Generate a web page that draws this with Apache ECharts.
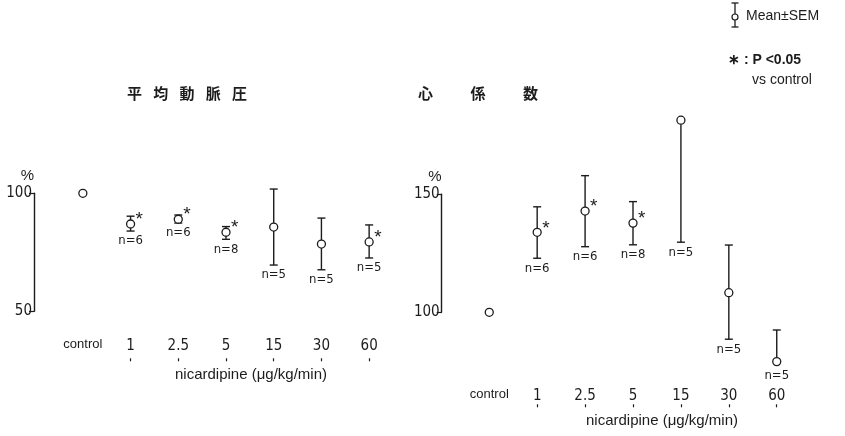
<!DOCTYPE html>
<html>
<head>
<meta charset="utf-8">
<script src="https://cdn.jsdelivr.net/npm/echarts@6/dist/echarts.min.js"></script>
<style>
html,body{margin:0;padding:0;background:#fff;}
#c{width:845px;height:436px;}
</style>
</head>
<body>
<div id="c"></div>
<script>
// ---- data ----
const categories = ['control', '1', '2.5', '5', '15', '30', '60'];
const nCounts = ['', 'n=6', 'n=6', 'n=8', 'n=5', 'n=5', 'n=5'];

// 平均動脈圧 (% of control)
const mapMean  = [100, 87.0, 89.0, 83.5, 85.7, 78.5, 79.4];
const mapUpper = [null, 90.3, 90.8, 85.9, 101.8, 89.5, 86.6];
const mapLower = [null, 84.0, 87.4, 80.5, 69.6, 67.6, 72.6];
const mapSig   = [false, true, true, true, false, false, true];

// 心係数 (% of control)
const ciMean  = [100, 133.9, 142.9, 137.8, 181.4, 108.3, 79.1];
const ciUpper = [null, 144.7, 157.9, 146.9, null, 128.5, 92.5];
const ciLower = [null, 122.9, 127.8, 128.6, 129.7, 88.6, null];
const ciSig   = [false, true, true, true, false, false, false];

const yTicksLeft = [50, 100];
const yTicksRight = [100, 150];

// ---- chart ----
const INK = '#1c1c1c';
const NARROW = '"Liberation Sans Narrow","DejaVu Sans Condensed","Liberation Sans",sans-serif';
const SANS = '"Liberation Sans","Noto Sans",Arial,sans-serif';
const CJK = '"Noto Sans CJK JP","Noto Sans CJK SC",sans-serif';

function makeRender(mean, upper, lower, sig) {
  return function (params, api) {
    const i = api.value(0);
    const c = api.coord([i, mean[i]]);
    const r = 4;
    const ch = [];
    const ls = { stroke: INK, lineWidth: 1.4 };
    let bottomY = c[1] + r;
    if (upper[i] != null) {
      const u = api.coord([i, upper[i]]);
      ch.push({ type: 'line', shape: { x1: c[0], y1: c[1] - r, x2: c[0], y2: u[1] }, style: ls });
      ch.push({ type: 'line', shape: { x1: c[0] - 4, y1: u[1], x2: c[0] + 4, y2: u[1] }, style: ls });
    }
    if (lower[i] != null) {
      const l = api.coord([i, lower[i]]);
      ch.push({ type: 'line', shape: { x1: c[0], y1: c[1] + r, x2: c[0], y2: l[1] }, style: ls });
      ch.push({ type: 'line', shape: { x1: c[0] - 4, y1: l[1], x2: c[0] + 4, y2: l[1] }, style: ls });
      bottomY = l[1];
    }
    ch.push({ type: 'circle', shape: { cx: c[0], cy: c[1], r: r }, style: { fill: '#fff', stroke: INK, lineWidth: 1.3 } });
    if (nCounts[i]) {
      ch.push({ type: 'text', style: { x: c[0], y: bottomY + 10, text: nCounts[i], align: 'center', verticalAlign: 'middle', font: '13px ' + NARROW, fill: INK } });
    }
    if (sig[i]) {
      ch.push({ type: 'text', style: { x: c[0] + 5, y: c[1] - 4, text: '*', align: 'left', verticalAlign: 'middle', font: '19px ' + SANS, fill: INK } });
    }
    return { type: 'group', children: ch };
  };
}

const chart = echarts.init(document.getElementById('c'), null, { renderer: 'canvas' });

function xLabelAxis(grid, margin) {
  return {
    type: 'category', gridIndex: grid, data: categories, boundaryGap: true,
    axisLine: { show: false }, axisTick: { show: false }, splitLine: { show: false },
    axisLabel: {
      margin: margin, color: INK, interval: 0,
      formatter: function (v) { return v === 'control' ? '{c|' + v + '}' : '{n|' + v + '}'; },
      rich: {
        c: { fontFamily: SANS, fontSize: 13, color: INK },
        n: { fontFamily: NARROW, fontSize: 15, color: INK }
      }
    }
  };
}
function xTickAxis(grid, offset, pad) {
  return {
    type: 'category', gridIndex: grid, data: categories, boundaryGap: true, position: 'bottom', offset: offset,
    axisLine: { show: false },
    axisTick: { show: true, alignWithLabel: true, length: 3, lineStyle: { color: INK, width: 1.2 },
      interval: function (idx) { return idx > 0; } },
    axisLabel: { show: false }, splitLine: { show: false },
    name: 'nicardipine (\u03bcg/kg/min)', nameLocation: 'middle', nameGap: 9,
    nameTextStyle: { fontFamily: SANS, fontSize: 15, color: INK, padding: [0, 0, 0, pad] }
  };
}
function yAxis(grid, min, max, ticks) {
  return {
    type: 'value', gridIndex: grid, min: min, max: max, interval: ticks[1] - ticks[0], offset: 25,
    axisLine: { show: true, lineStyle: { color: INK, width: 1.4 } },
    axisTick: { show: true, length: 5, lineStyle: { color: INK, width: 1.2 } },
    splitLine: { show: false },
    axisLabel: { margin: 2, fontFamily: NARROW, fontSize: 15, color: INK },
    name: '%', nameLocation: 'end', nameGap: 10,
    nameTextStyle: { fontFamily: SANS, fontSize: 15, color: INK, align: 'right', padding: [0, 0, 0, 0] }
  };
}

const option = {
  backgroundColor: '#fff',
  animation: false,
  grid: [
    { left: 59, width: 334, top: 193.3, height: 118 },
    { left: 465.3, width: 335.4, top: 194.3, height: 118 }
  ],
  xAxis: [
    xLabelAxis(0, 27),
    xTickAxis(0, 47, 50),
    xLabelAxis(1, 76),
    xTickAxis(1, 92, 58)
  ],
  yAxis: [
    yAxis(0, 50, 100, yTicksLeft),
    Object.assign(yAxis(1, 100, 150, yTicksRight), { offset: 23.6 })
  ],
  series: [
    { type: 'custom', xAxisIndex: 0, yAxisIndex: 0, clip: false,
      renderItem: makeRender(mapMean, mapUpper, mapLower, mapSig),
      data: mapMean.map(function (v, i) { return [i, v]; }) },
    { type: 'custom', xAxisIndex: 2, yAxisIndex: 1, clip: false,
      renderItem: makeRender(ciMean, ciUpper, ciLower, ciSig),
      data: ciMean.map(function (v, i) { return [i, v]; }) }
  ],
  graphic: [
    { type: 'text', style: { x: 187, y: 93, text: '平\u2002\u2005均\u2002\u2005動\u2002\u2005脈\u2002\u2005圧', align: 'center', verticalAlign: 'middle', font: 'bold 15px ' + CJK, fill: INK } },
    { type: 'text', style: { x: 478, y: 93, text: '心\u2003\u2003\u2002係\u2003\u2003\u2002数', align: 'center', verticalAlign: 'middle', font: 'bold 15px ' + CJK, fill: INK } },
    // legend: Mean±SEM symbol
    { type: 'line', shape: { x1: 735, y1: 3, x2: 735, y2: 14 }, style: { stroke: INK, lineWidth: 1.3 } },
    { type: 'line', shape: { x1: 731.5, y1: 3, x2: 738.5, y2: 3 }, style: { stroke: INK, lineWidth: 1.3 } },
    { type: 'circle', shape: { cx: 735, cy: 17, r: 3 }, style: { fill: '#fff', stroke: INK, lineWidth: 1.2 } },
    { type: 'line', shape: { x1: 735, y1: 20, x2: 735, y2: 27 }, style: { stroke: INK, lineWidth: 1.3 } },
    { type: 'line', shape: { x1: 731.5, y1: 27, x2: 738.5, y2: 27 }, style: { stroke: INK, lineWidth: 1.3 } },
    { type: 'text', style: { x: 746, y: 16, text: 'Mean\u00b1SEM', align: 'left', verticalAlign: 'middle', font: '14px ' + SANS, fill: INK } },
    { type: 'text', style: { x: 728, y: 60, text: '\u2217 : P <0.05', align: 'left', verticalAlign: 'middle', font: 'bold 14px ' + SANS, fill: INK } },
    { type: 'text', style: { x: 752, y: 80, text: 'vs control', align: 'left', verticalAlign: 'middle', font: '14px ' + SANS, fill: INK } }
  ]
};
chart.setOption(option);
</script>
</body>
</html>
